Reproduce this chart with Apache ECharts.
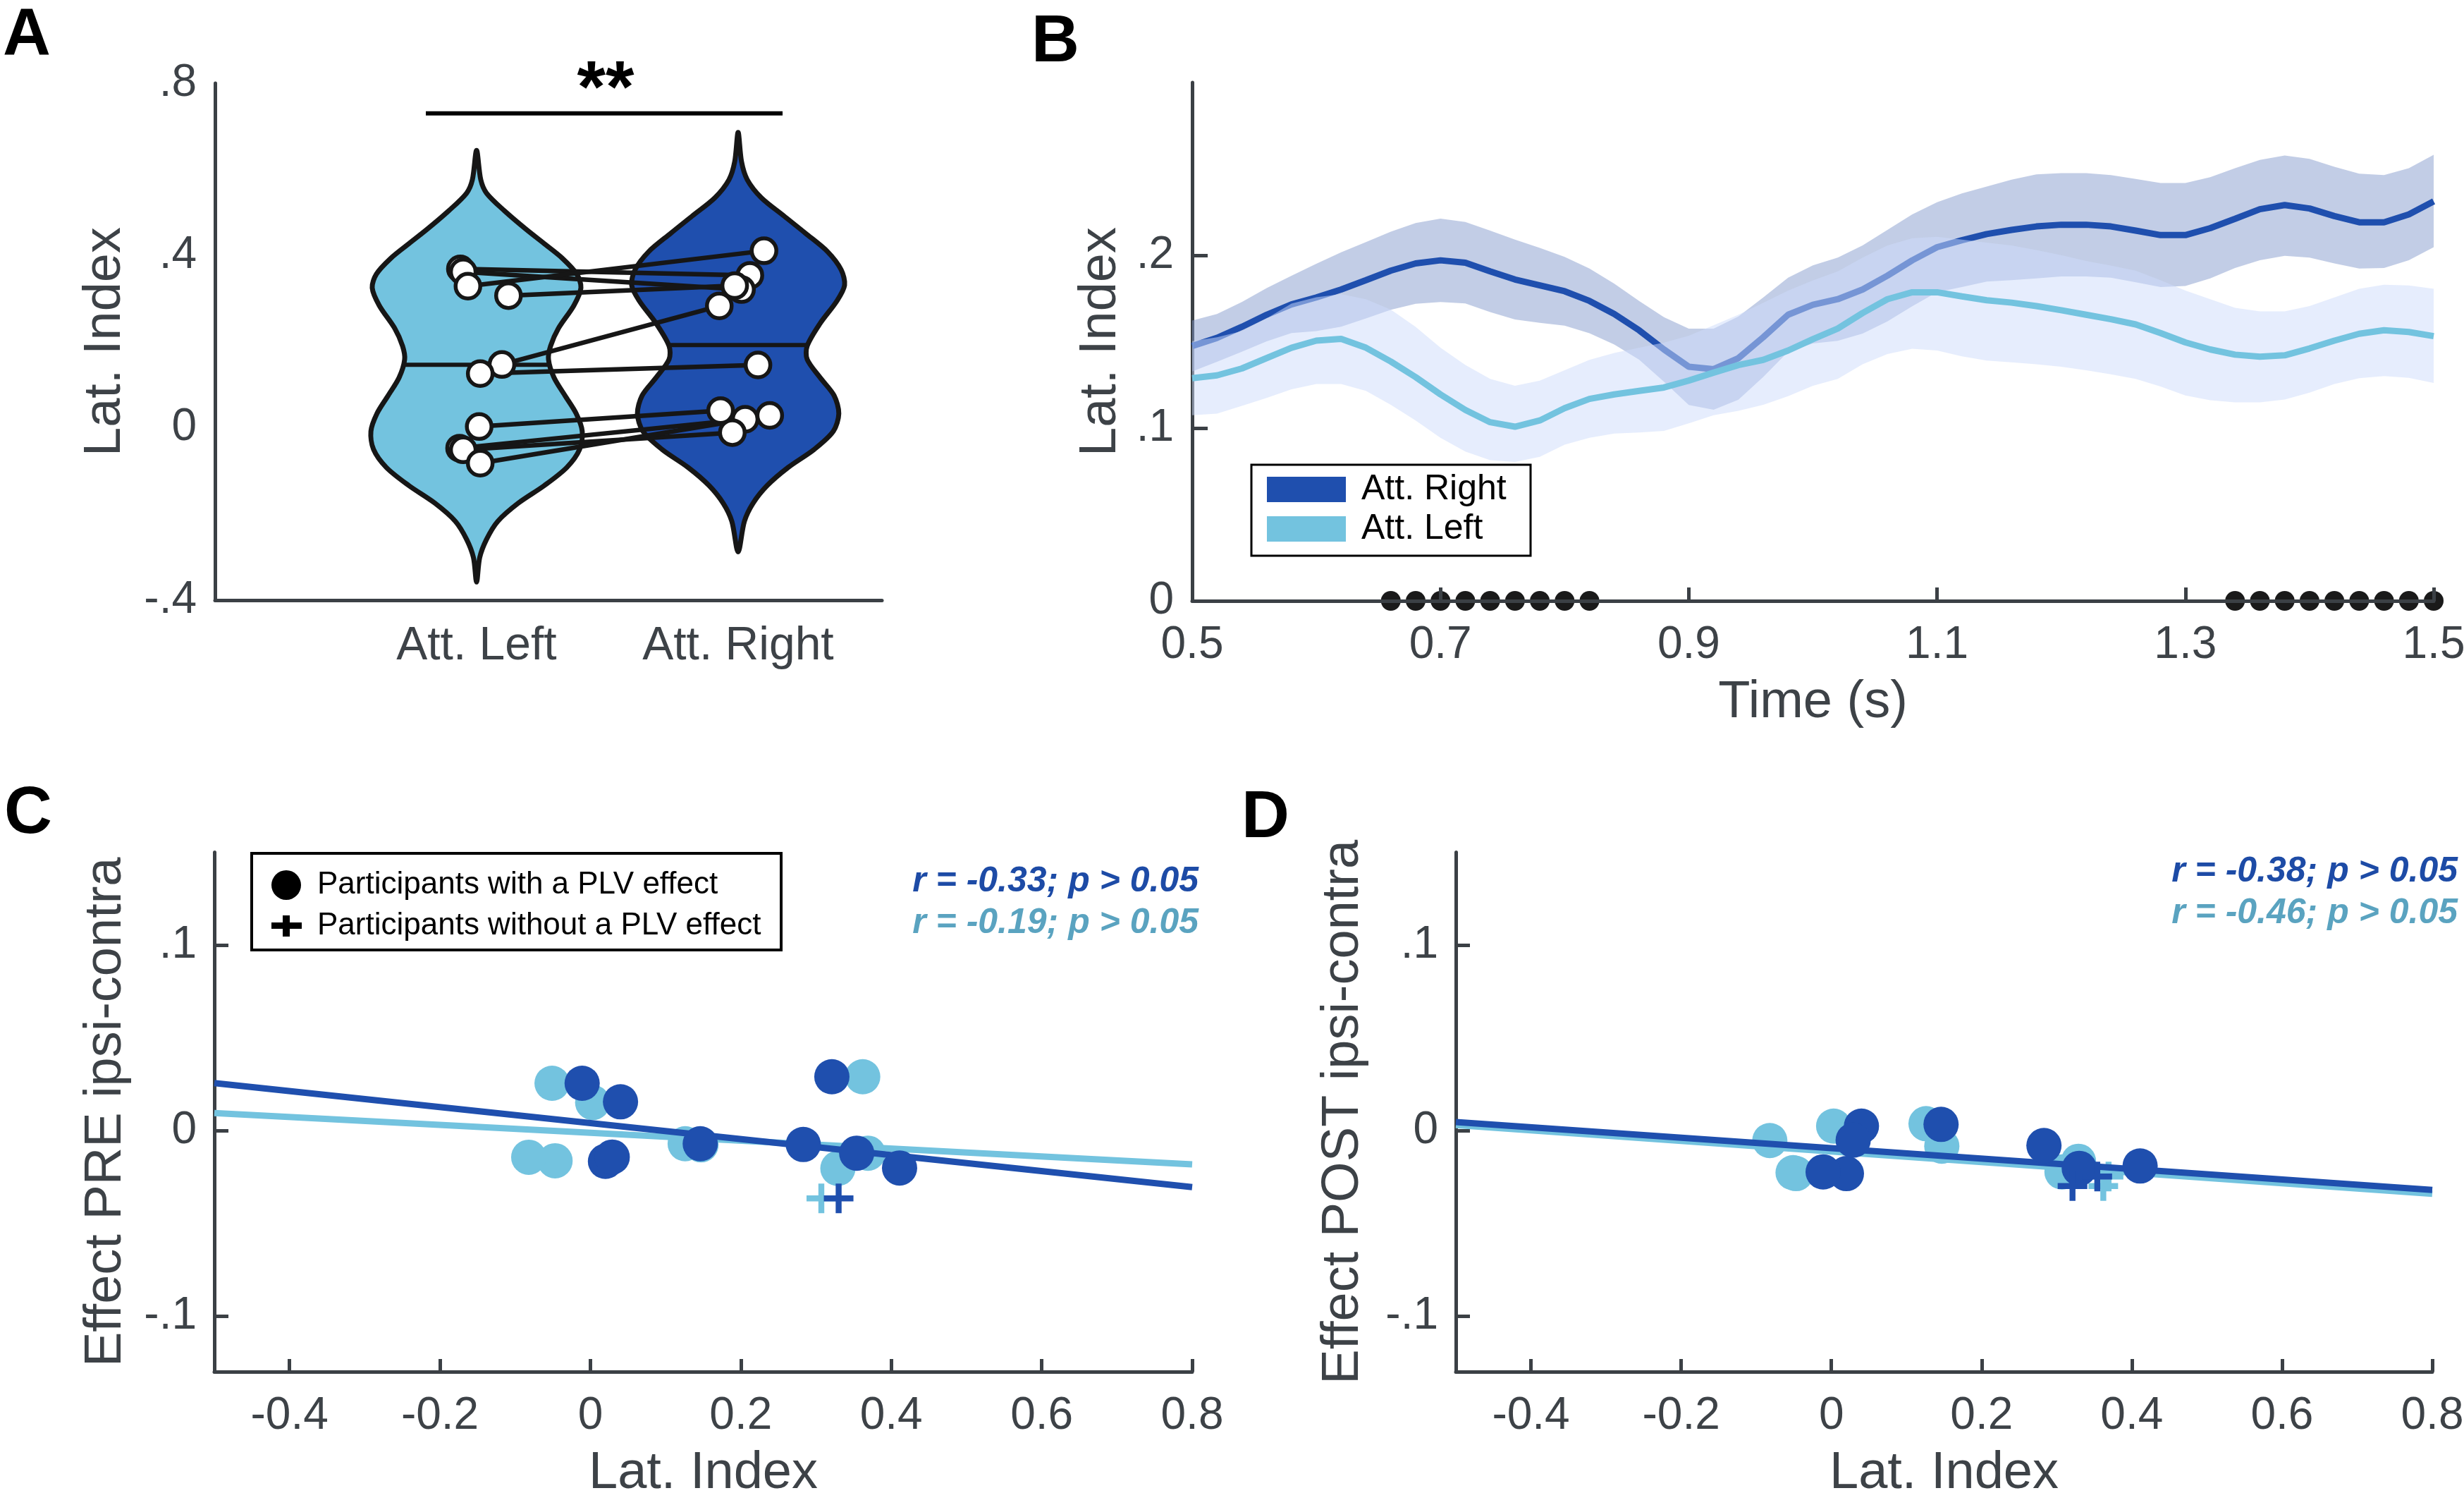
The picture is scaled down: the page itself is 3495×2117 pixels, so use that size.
<!DOCTYPE html>
<html><head><meta charset="utf-8">
<script src="https://cdn.jsdelivr.net/npm/echarts@6/dist/echarts.min.js"></script>
<style>html,body{margin:0;padding:0;background:#fff}#chart{width:3495px;height:2117px}</style>
</head><body><div id="chart"></div>
<script>
// ---------------- DATA ----------------
const categories = ['Att. Left', 'Att. Right'];
// Panel A: lateralization index per participant (P1..P10)
const latLeft  = [0.369, 0.362, 0.329, 0.307, 0.147, 0.126, 0.003, -0.047, -0.051, -0.082];
const latRight = [0.354, 0.321, 0.411, 0.330, 0.283, 0.146, 0.040, 0.020, -0.011, 0.029];
const jitterLeft  = [-0.062, -0.051, -0.033, 0.122, 0.097, 0.014, 0.010, -0.065, -0.051, 0.014];
const jitterRight = [0.045, 0.013, 0.099, -0.013, -0.072, 0.076, -0.067, 0.027, -0.022, 0.121];
// violin outlines: value levels and half widths (category units)
const violinLeftY  = [0.644, 0.576, 0.545, 0.503, 0.461, 0.425, 0.393, 0.357, 0.325, 0.284, 0.231, 0.19, 0.159, 0.117, 0.075, 0.033, -0.008, -0.05, -0.092, -0.134, -0.175, -0.217, -0.259, -0.301, -0.358];
const violinLeftW  = [0, 0.016, 0.038, 0.108, 0.189, 0.264, 0.329, 0.383, 0.399, 0.372, 0.313, 0.283, 0.275, 0.296, 0.338, 0.381, 0.404, 0.394, 0.345, 0.259, 0.159, 0.081, 0.038, 0.012, 0];
const violinRightY = [0.686, 0.618, 0.576, 0.534, 0.492, 0.451, 0.409, 0.367, 0.331, 0.294, 0.242, 0.19, 0.159, 0.117, 0.075, 0.033, -0.008, -0.05, -0.092, -0.134, -0.175, -0.217, -0.288];
const violinRightW = [0, 0.013, 0.035, 0.089, 0.175, 0.259, 0.342, 0.394, 0.407, 0.377, 0.313, 0.264, 0.264, 0.313, 0.367, 0.385, 0.364, 0.291, 0.191, 0.111, 0.057, 0.024, 0];
const sigBar = [0.806, 2.17, 0.73];

// Panel B: time course
const timeS = [0.50,0.52,0.54,0.56,0.58,0.60,0.62,0.64,0.66,0.68,0.70,0.72,0.74,0.76,0.78,0.80,0.82,0.84,0.86,0.88,0.90,0.92,0.94,0.96,0.98,1.00,1.02,1.04,1.06,1.08,1.10,1.12,1.14,1.16,1.18,1.20,1.22,1.24,1.26,1.28,1.30,1.32,1.34,1.36,1.38,1.40,1.42,1.44,1.46,1.48,1.50];
const rightMean  = [0.1475,0.1522,0.1586,0.1656,0.1716,0.1756,0.1802,0.1856,0.1911,0.1953,0.1971,0.1957,0.1907,0.1860,0.1826,0.1792,0.1736,0.1660,0.1566,0.1455,0.1355,0.1341,0.1405,0.1526,0.1656,0.1714,0.1746,0.1802,0.1882,0.1971,0.2047,0.2087,0.2123,0.2147,0.2167,0.2177,0.2177,0.2167,0.2143,0.2117,0.2117,0.2157,0.2211,0.2267,0.2291,0.2271,0.2227,0.2191,0.2191,0.2237,0.2312];
const rightUpper = [0.1622,0.1660,0.1730,0.1810,0.1882,0.1951,0.2017,0.2077,0.2137,0.2187,0.2212,0.2193,0.2143,0.2091,0.2043,0.1991,0.1923,0.1836,0.1736,0.1642,0.1576,0.1576,0.1646,0.1756,0.1870,0.1942,0.1987,0.2057,0.2147,0.2237,0.2307,0.2358,0.2398,0.2438,0.2468,0.2476,0.2476,0.2464,0.2442,0.2418,0.2418,0.2452,0.2504,0.2552,0.2578,0.2558,0.2512,0.2472,0.2464,0.2504,0.2582];
const rightLower = [0.1328,0.1384,0.1442,0.1502,0.1550,0.1561,0.1587,0.1635,0.1685,0.1719,0.1730,0.1721,0.1671,0.1629,0.1609,0.1593,0.1549,0.1484,0.1396,0.1268,0.1134,0.1106,0.1164,0.1296,0.1442,0.1490,0.1505,0.1547,0.1617,0.1705,0.1787,0.1816,0.1848,0.1856,0.1866,0.1878,0.1878,0.1870,0.1844,0.1816,0.1822,0.1866,0.1927,0.1971,0.1997,0.1987,0.1953,0.1923,0.1927,0.1971,0.2047];
const leftMean   = [0.1289,0.1305,0.1345,0.1405,0.1465,0.1506,0.1516,0.1465,0.1385,0.1295,0.1195,0.1105,0.1034,0.1008,0.1044,0.1115,0.1169,0.1195,0.1215,0.1235,0.1275,0.1321,0.1365,0.1395,0.1449,0.1515,0.1576,0.1666,0.1746,0.1786,0.1786,0.1762,0.1740,0.1726,0.1706,0.1682,0.1656,0.1630,0.1600,0.1550,0.1496,0.1455,0.1425,0.1413,0.1421,0.1461,0.1506,0.1546,0.1566,0.1556,0.1532];
const leftUpper  = [0.1503,0.1526,0.1561,0.1635,0.1720,0.1757,0.1776,0.1746,0.1686,0.1586,0.1465,0.1365,0.1285,0.1245,0.1275,0.1335,0.1395,0.1435,0.1465,0.1495,0.1535,0.1595,0.1656,0.1726,0.1796,0.1855,0.1907,0.1987,0.2057,0.2099,0.2107,0.2091,0.2073,0.2057,0.2031,0.2001,0.1967,0.1941,0.1911,0.1856,0.1796,0.1746,0.1696,0.1676,0.1676,0.1706,0.1756,0.1806,0.1830,0.1826,0.1806];
const leftLower  = [0.1074,0.1084,0.1129,0.1175,0.1225,0.1255,0.1255,0.1215,0.1135,0.1044,0.0944,0.0864,0.0814,0.0804,0.0834,0.0904,0.0944,0.0968,0.0974,0.0984,0.1028,0.1074,0.1100,0.1135,0.1185,0.1245,0.1285,0.1369,0.1429,0.1459,0.1449,0.1415,0.1391,0.1381,0.1369,0.1355,0.1335,0.1311,0.1285,0.1241,0.1189,0.1161,0.1149,0.1149,0.1165,0.1205,0.1255,0.1289,0.1301,0.1291,0.1261];
const sigTimes = [0.66,0.68,0.70,0.72,0.74,0.76,0.78,0.80,0.82, 1.34,1.36,1.38,1.40,1.42,1.44,1.46,1.48,1.50];

// Panels C and D: effect per participant (same order as latLeft / latRight)
const preRight  = [-0.0122, 0.0290, -0.0202, -0.0366, -0.0075, -0.0071, 0.0155, -0.0166, 0.0255, -0.0143];
const preLeft   = [-0.0122, 0.0290, -0.0204, -0.0366, -0.0077, -0.0071, 0.0151, -0.0163, 0.0255, -0.0144];
const preNoEffect = [0, 0, 0, 1, 0, 0, 0, 0, 0, 0];
const postRight = [-0.0248, -0.0299, -0.0191, -0.0204, -0.0081, 0.0033, 0.0024, -0.0232, -0.0223, -0.0052];
const postLeft  = [-0.0248, -0.0299, -0.0166, -0.0223, -0.0084, 0.0037, 0.0024, -0.0232, -0.0227, -0.0054];
const postNoEffect = [1, 1, 0, 0, 0, 0, 0, 0, 0, 0];
const preFitRight  = [[-0.5, 0.0256], [0.8, -0.0305]];
const preFitLeft   = [[-0.5, 0.0094], [0.8, -0.0182]];
const postFitRight = [[-0.5, 0.0046], [0.8, -0.0320]];
const postFitLeft  = [[-0.5, 0.0030], [0.8, -0.0341]];
const statsPre  = ['r = -0.33; p > 0.05', 'r = -0.19; p > 0.05'];
const statsPost = ['r = -0.38; p > 0.05', 'r = -0.46; p > 0.05'];

// ---------------- STYLE ----------------
const FONT = '"Liberation Sans", Arial, Helvetica, sans-serif';
const axisColor = '#3b4045';
const textColor = '#3d4247';
const darkBlue = '#1f4fae';
const lightBlue = '#73c3df';
const outline = '#161616';
const plusPath = 'path://M4,0H6V4H10V6H6V10H4V6H0V4H4Z';

function dotFmt(v) {
  if (Math.abs(v) < 1e-9) return '0';
  return (v < 0 ? '-' : '') + Math.abs(v).toFixed(1).replace(/^0/, '');
}
function decFmt(v) {
  if (Math.abs(v) < 1e-9) return '0';
  return v.toFixed(1);
}
function mean(a) { return a.reduce((s, x) => s + x, 0) / a.length; }
function hwAt(ys, ws, y) {
  for (let i = 0; i < ys.length - 1; i++) {
    if (ys[i] >= y && y >= ys[i + 1]) {
      const t = (ys[i] - y) / (ys[i] - ys[i + 1]);
      return ws[i] + (ws[i + 1] - ws[i]) * t;
    }
  }
  return 0;
}

const labelBase = { color: textColor, fontFamily: FONT, fontSize: 64 };
const nameBase = { color: textColor, fontFamily: FONT, fontSize: 74 };
const lineBase = { show: true, onZero: false, lineStyle: { color: axisColor, width: 5 } };

function violinSeries(center, ys, ws, fill, values) {
  const m = mean(values);
  return {
    type: 'custom', xAxisIndex: 0, yAxisIndex: 0, z: 2, silent: true,
    data: [[center, m]],
    renderItem: function (params, api) {
      const pts = [];
      for (let i = 0; i < ys.length; i++) pts.push(api.coord([center - ws[i], ys[i]]));
      for (let i = ys.length - 2; i >= 1; i--) pts.push(api.coord([center + ws[i], ys[i]]));
      const hw = hwAt(ys, ws, m);
      const a = api.coord([center - hw, m]);
      const b = api.coord([center + hw, m]);
      return {
        type: 'group', children: [
          { type: 'polygon', shape: { points: pts, smooth: 0.3 }, style: { fill: fill, stroke: outline, lineWidth: 7 } },
          { type: 'line', shape: { x1: a[0], y1: a[1], x2: b[0], y2: b[1] }, style: { stroke: outline, lineWidth: 6 } }
        ]
      };
    }
  };
}

function bandSeries(xi, yi, xs, up, lo, color, z) {
  return {
    type: 'custom', xAxisIndex: xi, yAxisIndex: yi, z: z, silent: true,
    data: [[xs[0], lo[0]]],
    renderItem: function (params, api) {
      const pts = [];
      for (let i = 0; i < xs.length; i++) pts.push(api.coord([xs[i], up[i]]));
      for (let i = xs.length - 1; i >= 0; i--) pts.push(api.coord([xs[i], lo[i]]));
      return { type: 'polygon', shape: { points: pts }, style: { fill: color } };
    }
  };
}

function corrPanel(ax, xL, yL, xR, yR, noEff, fitL, fitR) {
  const lightDots = [], darkDots = [], lightPlus = [], darkPlus = [];
  for (let i = 0; i < xL.length; i++) {
    (noEff[i] ? lightPlus : lightDots).push([xL[i], yL[i]]);
    (noEff[i] ? darkPlus : darkDots).push([xR[i], yR[i]]);
  }
  const common = { xAxisIndex: ax, yAxisIndex: ax, silent: true, clip: false };
  return [
    Object.assign({ type: 'line', data: fitL, showSymbol: false, z: 2, lineStyle: { color: lightBlue, width: 9 } }, common),
    Object.assign({ type: 'scatter', data: lightDots, symbol: 'circle', symbolSize: 50, z: 3, itemStyle: { color: lightBlue, opacity: 1 } }, common),
    Object.assign({ type: 'scatter', data: lightPlus, symbol: plusPath, symbolSize: 42, z: 3, itemStyle: { color: lightBlue, opacity: 1 } }, common),
    Object.assign({ type: 'line', data: fitR, showSymbol: false, z: 4, lineStyle: { color: darkBlue, width: 9 } }, common),
    Object.assign({ type: 'scatter', data: darkDots, symbol: 'circle', symbolSize: 50, z: 5, itemStyle: { color: darkBlue, opacity: 1 } }, common),
    Object.assign({ type: 'scatter', data: darkPlus, symbol: plusPath, symbolSize: 42, z: 5, itemStyle: { color: darkBlue, opacity: 1 } }, common)
  ];
}

const pairData = latLeft.map((v, i) => [1 + jitterLeft[i], v, 2 + jitterRight[i], latRight[i]]);

const series = [
  violinSeries(1, violinLeftY, violinLeftW, lightBlue, latLeft),
  violinSeries(2, violinRightY, violinRightW, darkBlue, latRight),
  {
    type: 'custom', xAxisIndex: 0, yAxisIndex: 0, z: 3, silent: true,
    data: pairData, encode: { x: [0, 2], y: [1, 3] },
    renderItem: function (params, api) {
      const a = api.coord([api.value(0), api.value(1)]);
      const b = api.coord([api.value(2), api.value(3)]);
      return { type: 'line', shape: { x1: a[0], y1: a[1], x2: b[0], y2: b[1] }, style: { stroke: outline, lineWidth: 6.5 } };
    }
  },
  {
    type: 'scatter', xAxisIndex: 0, yAxisIndex: 0, z: 4, silent: true,
    data: latLeft.map((v, i) => [1 + jitterLeft[i], v]).concat(latRight.map((v, i) => [2 + jitterRight[i], v])),
    symbol: 'circle', symbolSize: 35,
    itemStyle: { color: '#ffffff', borderColor: outline, borderWidth: 5.5, opacity: 1 }
  },
  {
    type: 'custom', xAxisIndex: 0, yAxisIndex: 0, z: 3, silent: true,
    data: [sigBar],
    renderItem: function (params, api) {
      const a = api.coord([api.value(0), api.value(2)]);
      const b = api.coord([api.value(1), api.value(2)]);
      return { type: 'line', shape: { x1: a[0], y1: a[1], x2: b[0], y2: b[1] }, style: { stroke: '#000', lineWidth: 6 } };
    }
  },
  // Panel B
  bandSeries(1, 1, timeS, rightUpper, rightLower, 'rgba(133,155,205,0.5)', 2),
  { type: 'line', xAxisIndex: 1, yAxisIndex: 1, z: 3, name: 'Att. Right', showSymbol: false, silent: true,
    data: timeS.map((t, i) => [t, rightMean[i]]), lineStyle: { color: darkBlue, width: 9 } },
  bandSeries(1, 1, timeS, leftUpper, leftLower, 'rgba(205,220,252,0.5)', 4),
  { type: 'line', xAxisIndex: 1, yAxisIndex: 1, z: 5, name: 'Att. Left', showSymbol: false, silent: true,
    data: timeS.map((t, i) => [t, leftMean[i]]), lineStyle: { color: lightBlue, width: 9 } },
  { type: 'scatter', xAxisIndex: 1, yAxisIndex: 1, z: -1, silent: true, clip: false,
    data: sigTimes.map(t => [t, 0]), symbol: 'circle', symbolSize: 28, itemStyle: { color: '#1a1a1a', opacity: 1 } }
].concat(
  corrPanel(2, latLeft, preLeft, latRight, preRight, preNoEffect, preFitLeft, preFitRight),
  corrPanel(3, latLeft, postLeft, latRight, postRight, postNoEffect, postFitLeft, postFitRight)
);

const corrTicks = [-0.4, -0.2, 0, 0.2, 0.4, 0.6, 0.8];
function corrX(idx) {
  return {
    type: 'value', gridIndex: idx, min: -0.5, max: 0.8,
    axisLine: lineBase, splitLine: { show: false },
    axisTick: { show: true, inside: true, length: 18, customValues: corrTicks, lineStyle: { color: axisColor, width: 5 } },
    axisLabel: Object.assign({ margin: 31, customValues: corrTicks, formatter: decFmt }, labelBase),
    name: 'Lat. Index', nameLocation: 'middle', nameGap: 108, nameTextStyle: nameBase
  };
}
function corrY(idx, name, gap) {
  return {
    type: 'value', gridIndex: idx, min: -0.13, max: 0.15,
    axisLine: lineBase, splitLine: { show: false },
    axisTick: { show: true, inside: true, length: 20, customValues: [-0.1, 0, 0.1], lineStyle: { color: axisColor, width: 5 } },
    axisLabel: Object.assign({ margin: 25, customValues: [-0.1, 0, 0.1], formatter: dotFmt }, labelBase),
    name: name, nameLocation: 'middle', nameGap: gap, nameTextStyle: nameBase
  };
}

const letterStyle = { fontFamily: FONT, fontSize: 94, fontWeight: 'bold', fill: '#000' };
function txt(x, y, text, style, align, valign) {
  return { type: 'text', x: x, y: y, z: 100, silent: true,
    style: Object.assign({ text: text, align: align || 'left', verticalAlign: valign || 'top' }, style) };
}
const statStyle = (c) => ({ fontFamily: FONT, fontSize: 50, fontWeight: 'bold', fontStyle: 'italic', fill: c });

const option = {
  animation: false,
  backgroundColor: '#ffffff',
  grid: [
    { left: 305, top: 118, width: 946, height: 733, outerBoundsMode: 'none' },
    { left: 1691, top: 117, width: 1761, height: 735, outerBoundsMode: 'none' },
    { left: 304, top: 1208.5, width: 1387, height: 736.5, outerBoundsMode: 'none' },
    { left: 2065, top: 1208.5, width: 1385, height: 736.5, outerBoundsMode: 'none' }
  ],
  xAxis: [
    { type: 'value', gridIndex: 0, min: 0, max: 2.55,
      axisLine: lineBase, axisTick: { show: false }, splitLine: { show: false },
      axisLabel: Object.assign({ margin: 33, customValues: [1, 2], formatter: v => categories[Math.round(v) - 1] || '' }, labelBase, { fontSize: 66 }) },
    { type: 'value', gridIndex: 1, min: 0.5, max: 1.5,
      axisLine: lineBase, splitLine: { show: false },
      axisTick: { show: true, inside: true, length: 19, customValues: [0.7, 0.9, 1.1, 1.3, 1.5], lineStyle: { color: axisColor, width: 5 } },
      axisLabel: Object.assign({ margin: 31, customValues: [0.5, 0.7, 0.9, 1.1, 1.3, 1.5], formatter: v => v.toFixed(1) }, labelBase),
      name: 'Time (s)', nameLocation: 'middle', nameGap: 108, nameTextStyle: nameBase },
    corrX(2),
    corrX(3)
  ],
  yAxis: [
    { type: 'value', gridIndex: 0, min: -0.4, max: 0.8, interval: 0.4,
      axisLine: lineBase, axisTick: { show: false }, splitLine: { show: false },
      axisLabel: Object.assign({ margin: 26, formatter: dotFmt }, labelBase),
      name: 'Lat. Index', nameLocation: 'middle', nameGap: 118, nameTextStyle: nameBase },
    { type: 'value', gridIndex: 1, min: 0, max: 0.3,
      axisLine: lineBase, splitLine: { show: false },
      axisTick: { show: true, inside: true, length: 22, customValues: [0.1, 0.2], lineStyle: { color: axisColor, width: 5 } },
      axisLabel: Object.assign({ margin: 26, customValues: [0, 0.1, 0.2], formatter: dotFmt }, labelBase),
      name: 'Lat. Index', nameLocation: 'middle', nameGap: 92, nameTextStyle: nameBase },
    corrY(2, 'Effect PRE ipsi-contra', 116),
    corrY(3, 'Effect POST ipsi-contra', 122)
  ],
  series: series,
  graphic: [
    txt(4, 5, 'A', letterStyle),
    txt(1463, 14, 'B', letterStyle),
    txt(6, 1108, 'C', letterStyle),
    txt(1761, 1114, 'D', letterStyle),
    txt(859, 78, '**', { fontFamily: FONT, fontSize: 104, fontWeight: 'bold', fill: '#000' }, 'center', 'top'),
    // legend B
    { type: 'rect', z: 100, silent: true, shape: { x: 1775, y: 659, width: 396, height: 129 }, style: { fill: '#fff', stroke: '#000', lineWidth: 3 } },
    { type: 'rect', z: 101, silent: true, shape: { x: 1797, y: 676, width: 112, height: 36 }, style: { fill: darkBlue } },
    { type: 'rect', z: 101, silent: true, shape: { x: 1797, y: 732, width: 112, height: 36 }, style: { fill: lightBlue } },
    txt(1931, 694, 'Att. Right', { fontFamily: FONT, fontSize: 50, fill: '#000' }, 'left', 'middle'),
    txt(1931, 750, 'Att. Left', { fontFamily: FONT, fontSize: 50, fill: '#000' }, 'left', 'middle'),
    // legend C
    { type: 'rect', z: 100, silent: true, shape: { x: 357, y: 1210, width: 751, height: 137 }, style: { fill: '#fff', stroke: '#000', lineWidth: 4 } },
    { type: 'circle', z: 101, silent: true, shape: { cx: 406, cy: 1255, r: 21 }, style: { fill: '#000' } },
    { type: 'rect', z: 101, silent: true, shape: { x: 385, y: 1308, width: 43, height: 9 }, style: { fill: '#000' } },
    { type: 'rect', z: 101, silent: true, shape: { x: 401, y: 1298, width: 10, height: 30 }, style: { fill: '#000' } },
    txt(450, 1255, 'Participants with a PLV effect', { fontFamily: FONT, fontSize: 44, fill: '#000' }, 'left', 'middle'),
    txt(450, 1313, 'Participants without a PLV effect', { fontFamily: FONT, fontSize: 44, fill: '#000' }, 'left', 'middle'),
    // stats
    txt(1700, 1250, statsPre[0], statStyle('#1d4ba6'), 'right', 'middle'),
    txt(1700, 1309, statsPre[1], statStyle('#5aa3c0'), 'right', 'middle'),
    txt(3486, 1236, statsPost[0], statStyle('#1d4ba6'), 'right', 'middle'),
    txt(3486, 1295, statsPost[1], statStyle('#5aa3c0'), 'right', 'middle')
  ]
};

const chart = echarts.init(document.getElementById('chart'), null, { renderer: 'canvas', width: 3495, height: 2117 });
chart.setOption(option);
</script>
</body></html>
